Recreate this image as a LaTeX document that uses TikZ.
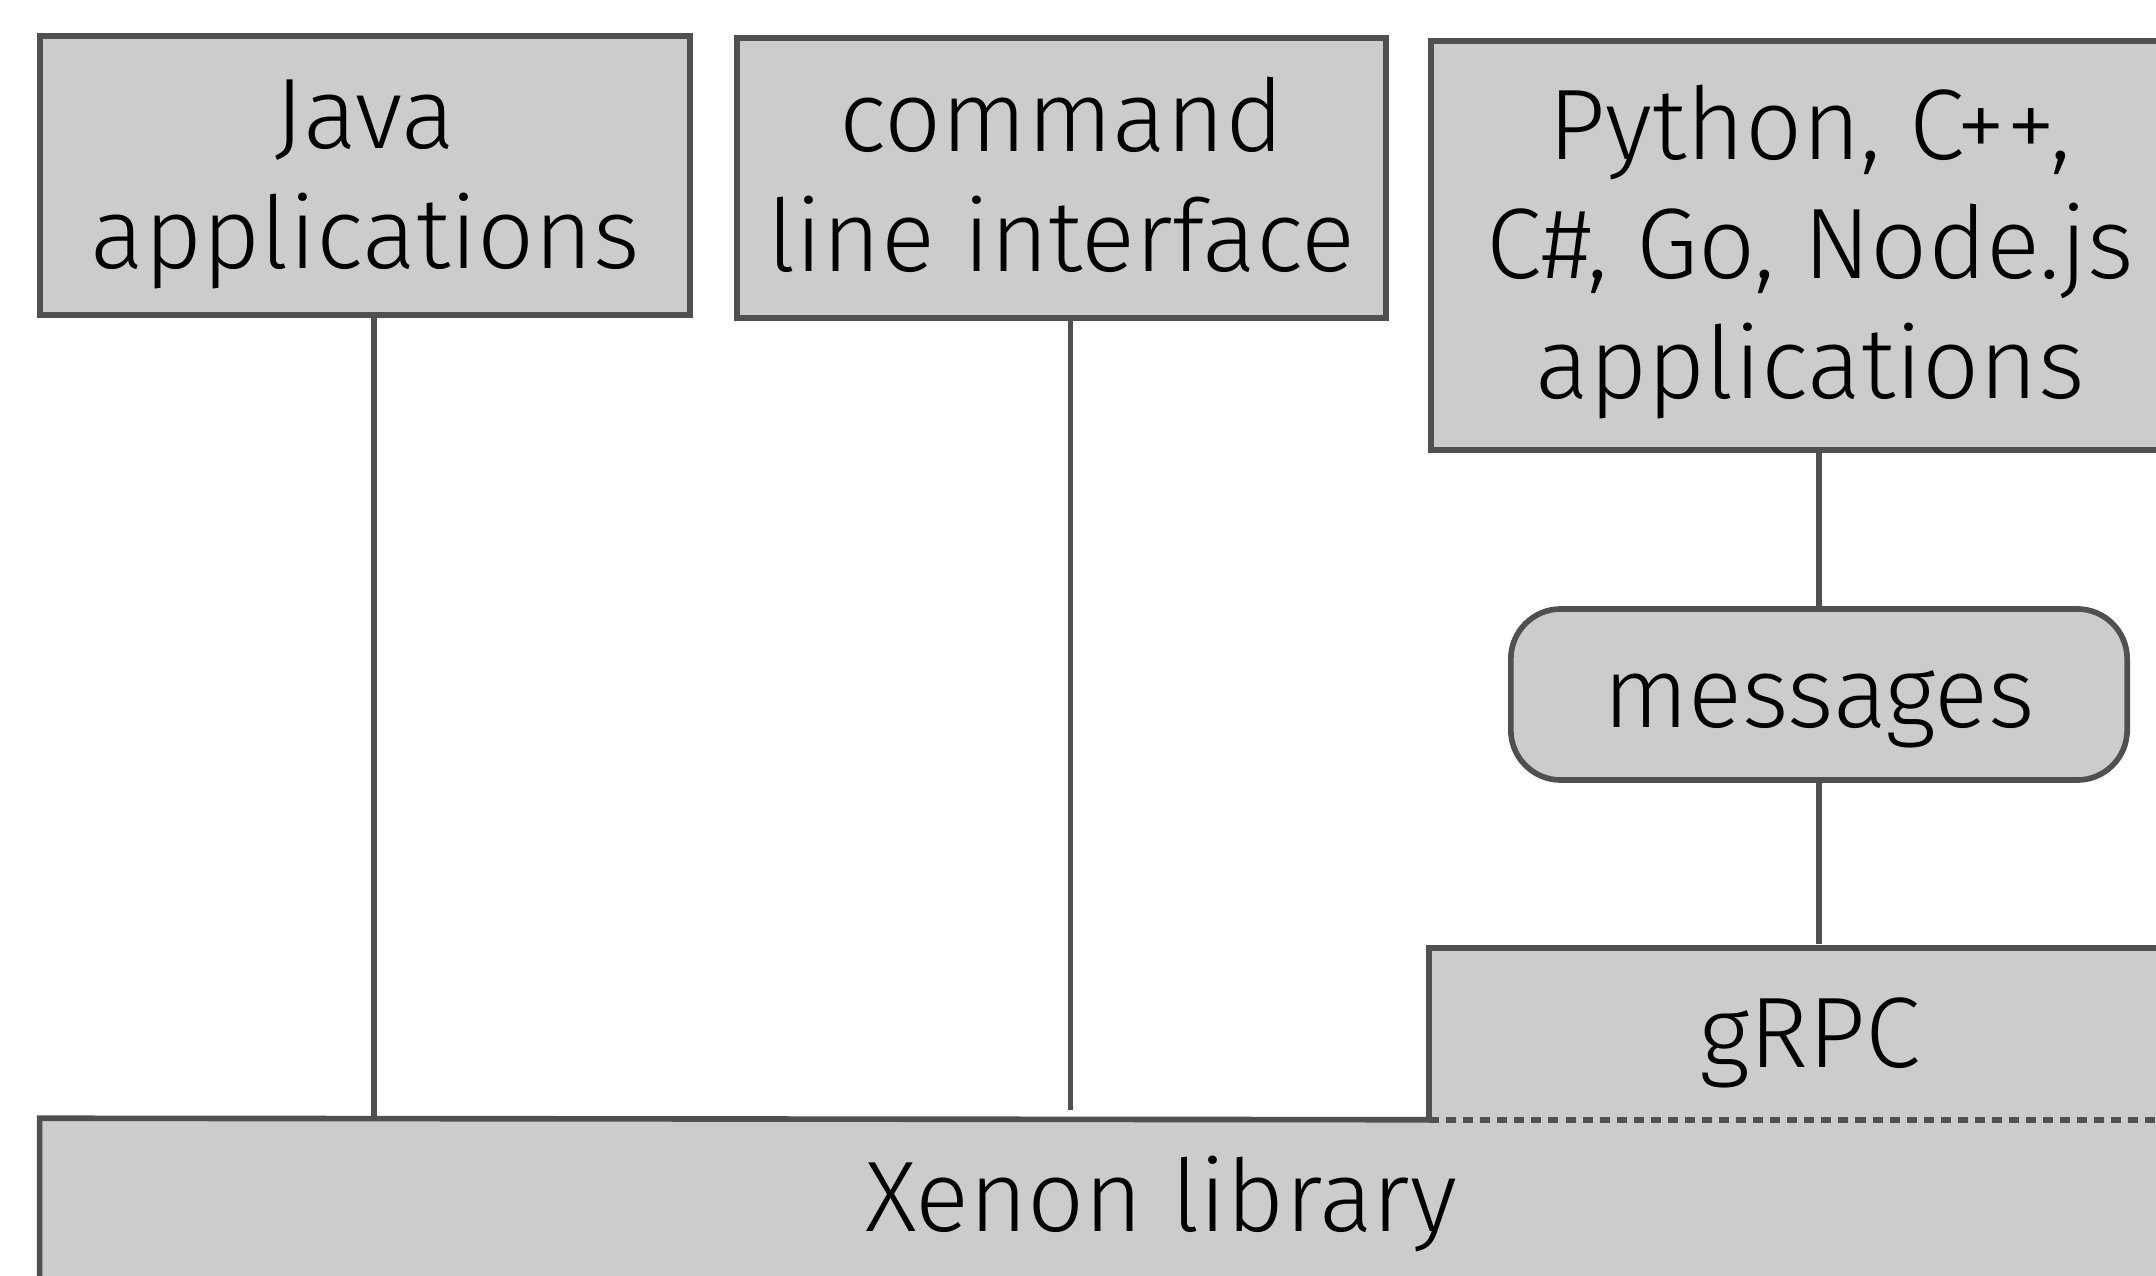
\documentclass[tikz,border=0pt]{standalone}
\usepackage{fontspec}
\setmainfont{Fira Sans}[UprightFont=* Light]
\usepackage{xcolor}
\usetikzlibrary{calc}
\definecolor{boxgray}{HTML}{CCCCCC}
\definecolor{edgegray}{HTML}{505050}
\newcommand{\lift}{\rule{0pt}{27.6pt}} % hauteur fixe de la premiere ligne

\begin{document}
\begin{tikzpicture}[x=0.01cm,y=-0.01cm, % 1 unite = 1 pixel, y vers le bas
  label/.style={align=center,inner sep=0pt,font=\fontsize{28.5}{34}\selectfont,
    execute at end node={\rule[-8.7pt]{0pt}{8.7pt}}},
  box/.style={label,fill=boxgray,draw=edgegray,line width=1.6pt},
  pad/.style={label,fill=boxgray},
  link/.style={color=edgegray,line width=1.6pt},
  dashlink/.style={link,dash pattern=on 2.85pt off 2pt}]
\fill[white] (0,0) rectangle (2156,1276); % le fond
\clip (0,0) rectangle (2156,1276);
% les applications en haut
\node[box,minimum width=6.5cm,minimum height=2.79cm] (java) at (365,175.5) {\lift Java\\applications};
\node[box,minimum width=6.49cm,minimum height=2.8cm] (cli) at (1061.5,178) {\lift command\\line interface};
\node[box,minimum width=7.58cm,minimum height=4.09cm] (python) at (1810,245.5) {\lift Python, C++,\\C\#, Go, Node.js\\applications};
\node[box,rounded corners=0.5cm,minimum width=6.16cm,minimum height=1.71cm] (messages) at (1819,694.5) {\lift messages};
% la bibliotheque et gRPC
\node[pad,minimum width=22.4cm,minimum height=1.59cm] (xenon) at (1161,1198.5) {\lift Xenon library};
\node[pad,minimum width=7.6cm,minimum height=1.7cm] (grpc) at (1810,1034) {\lift gRPC};
\draw[link] (xenon.south west) -- (xenon.north west) -- (grpc.south west); % bord plein
\draw[link] (grpc.south west) -- (grpc.north west) -- (grpc.north east) -- (grpc.south east);
\draw[dashlink] (grpc.south west) -- (grpc.south east); % bord en tirets
% les liaisons
\draw[link] ($(java.south)+(9,0)$) -- ($(java.south |- xenon.north)+(9,0)$);
\draw[link] ($(cli.south)+(9,0)$) -- ($(cli.south |- xenon.north)+(9,-8)$);
\draw[link] ($(python.south)+(9,0)$) -- (messages.north);
\draw[link] (messages.south) -- ($(messages.south |- grpc.north)+(0,-4)$);
\end{tikzpicture}
\end{document}
